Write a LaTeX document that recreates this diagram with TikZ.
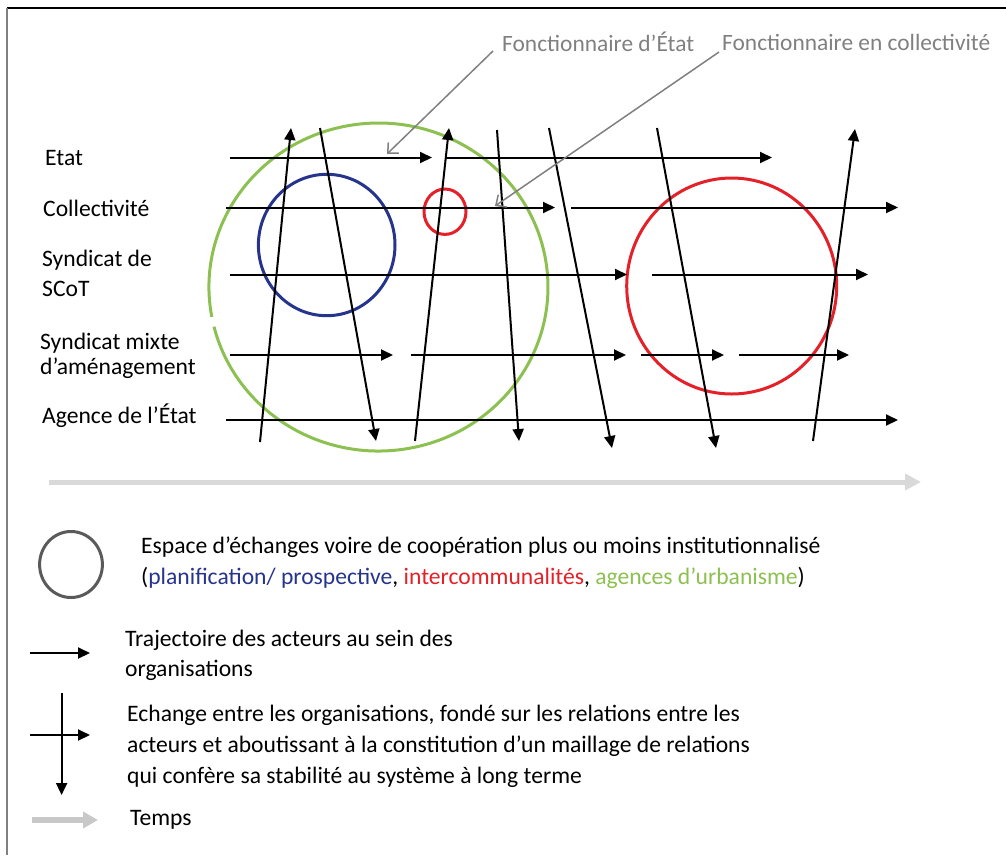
\documentclass[tikz,border=0pt]{standalone}
\usepackage{fontspec}
\setmainfont{Carlito}
\usetikzlibrary{arrows.meta}
\definecolor{cblue}{RGB}{38,52,140}
\definecolor{cred}{RGB}{228,32,40}
\definecolor{cgreen}{RGB}{140,192,80}
\definecolor{cgray}{RGB}{128,128,128}
\definecolor{lgray}{RGB}{217,217,217}
\definecolor{mgray}{RGB}{200,200,200}
\definecolor{dgray}{RGB}{90,90,90}
\begin{document}
\begin{tikzpicture}[x=1pt,y=-1pt,
  traj/.style={line width=2pt,-{Triangle[length=12pt,width=11pt]}},
  exch/.style={line width=2pt,-{Triangle[length=12pt,width=11pt]}},
  callout/.style={draw=cgray,line width=1.5pt,-{Straight Barb[length=8pt,width=15pt]}},
  lab/.style={font=\fontsize{23.6}{28}\selectfont,anchor=base west,inner sep=0pt},
  calltxt/.style={font=\fontsize{23.4}{28}\selectfont,anchor=base west,inner sep=0pt,text=cgray},
  space/.style={line width=3pt}
]
\useasboundingbox (0,0) rectangle (1006,855);
% frame
\draw[black,line width=1.5pt] (7,8) -- (1006,8);
\draw[cgray,line width=2pt] (7,8) -- (7,855);

% row labels
\node[lab] (etat) at (45,165) {Etat};
\node[lab] (coll) at (43,216.5) {Collectivité};
\node[lab] (scot1) at (42,266.5) {Syndicat de};
\node[lab] (scot2) at (42,296.5) {SCoT};
\node[lab] (smix1) at (40,349.5) {Syndicat mixte};
\node[lab] (smix2) at (40,374.5) {d’aménagement};
\node[lab] (agence) at (42,423) {Agence de l’État};

% circles (spaces)
\draw[cgreen,space] (211.8,316.9) arc[start angle=169.5,end angle=526,x radius=169.5,y radius=164];
\draw[cblue,space] (326.7,245) ellipse[x radius=68.3,y radius=70.7];
\draw[cred,space] (445,211.7) ellipse[x radius=21,y radius=22.7];
\draw[cred,space] (731.7,286) ellipse[x radius=105,y radius=108];

% trajectories
\draw[traj] (230,157.5) -- (432,157.5);
\draw[traj] (445,157.5) -- (772,157.5);
\draw[traj] (226,207.5) -- (555,207.5);
\draw[traj] (571,207.5) -- (898,207.5);
\draw[traj] (230,274.5) -- (627,274.5);
\draw[traj] (652,274.5) -- (868,274.5);
\draw[traj] (230,355) -- (393,355);
\draw[traj] (411,355) -- (626,355);
\draw[traj] (641,355) -- (724,355);
\draw[traj] (739,355) -- (849,355);
\draw[traj] (226,420) -- (898,420);

% exchanges
\draw[exch] (260,442) -- (291,128);
\draw[exch] (320,128) -- (376,441);
\draw[exch] (415,441) -- (449,128);
\draw[exch] (497,130) -- (519,441);
\draw[exch] (549,128) -- (612,448);
\draw[exch] (657,128) -- (716,448);
\draw[exch] (813,441) -- (855,129);

% time axis
\draw[lgray,line width=5pt,-{Triangle[length=16pt,width=16pt]}] (49,482) -- (921,482);

% callouts
\node[calltxt] (fe) at (502,51.7) {Fonctionnaire d’État};
\node[calltxt] (fc) at (722,50.5) {Fonctionnaire en collectivité};
\coordinate (fea) at (493,51);
\coordinate (fca) at (719,52);
\draw[callout] (fea) -- (387,154);
\draw[callout] (fca) -- (495,206);

% legend
\draw[dgray,line width=3pt] (71,564.5) ellipse[x radius=31.4,y radius=33];
\node[lab] (l1a) at (141,553) {Espace d’échanges voire de coopération plus ou moins institutionnalisé};
\node[lab] (l1b) at (141,584) {(\textcolor{cblue}{planification/ prospective}, \textcolor{cred}{intercommunalités}, \textcolor{cgreen}{agences d’urbanisme})};

\draw[traj] (30,653) -- (90,653);
\node[lab] (l2a) at (125,646) {Trajectoire des acteurs au sein des};
\node[lab] (l2b) at (125,676) {organisations};

\draw[exch] (61.6,693) -- (61.6,795);
\draw[traj] (30,735) -- (90,735);
\node[lab] (l3a) at (127,721) {Echange entre les organisations, fondé sur les relations entre les};
\node[lab] (l3b) at (127,752) {acteurs et aboutissant à la constitution d’un maillage de relations};
\node[lab] (l3c) at (127,783) {qui confère sa stabilité au système à long terme};

\draw[mgray,line width=6pt,-{Triangle[length=15pt,width=16pt]}] (32,820) -- (98,820);
\node[lab] (l4) at (130,825) {Temps};
\end{tikzpicture}
\end{document}
